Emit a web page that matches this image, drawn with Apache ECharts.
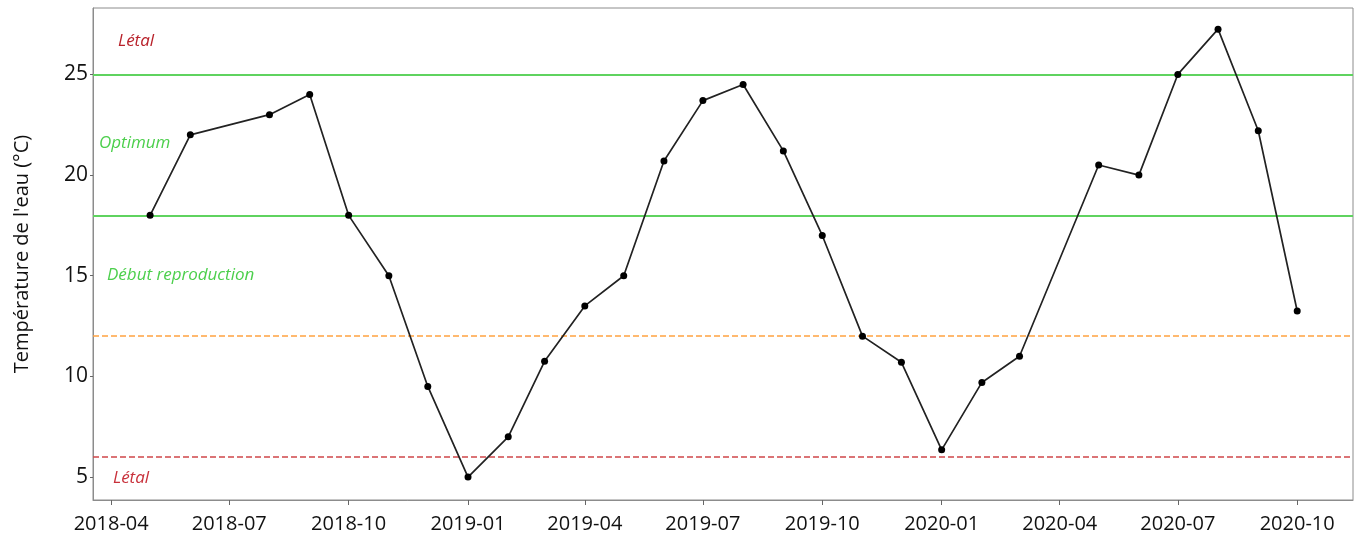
<!DOCTYPE html>
<html lang="fr">
<head>
<meta charset="UTF-8">
<title>Température de l'eau</title>
<script src="https://cdn.jsdelivr.net/npm/echarts@6/dist/echarts.min.js"></script>
<style>
  html, body { margin: 0; padding: 0; background: #fff; }
  #box { width: 1360px; height: 539px; }
</style>
</head>
<body>
<div id="box"></div>
<script>
// dates des mesures (mensuelles, trous en 2018-07 et 2020-04)
var dates = ['2018-05','2018-06','2018-08','2018-09','2018-10','2018-11','2018-12',
             '2019-01','2019-02','2019-03','2019-04','2019-05','2019-06','2019-07','2019-08','2019-09','2019-10','2019-11','2019-12',
             '2020-01','2020-02','2020-03','2020-05','2020-06','2020-07','2020-08','2020-09','2020-10'];
// température de l'eau (°C)
var temps = [18.0, 22.0, 23.0, 24.0, 18.0, 15.0, 9.5,
             5.0, 7.0, 10.75, 13.5, 15.0, 20.7, 23.7, 24.5, 21.2, 17.0, 12.0, 10.7,
             6.35, 9.7, 11.0, 20.5, 20.0, 25.0, 27.25, 22.2, 13.25];
// graduations de l'axe x (trimestres)
var xTicks = ['2018-04','2018-07','2018-10','2019-01','2019-04','2019-07','2019-10','2020-01','2020-04','2020-07','2020-10'];
// graduations de l'axe y
var yTicks = [5, 10, 15, 20, 25];
// seuils
var seuilOptimumHaut = 25;
var seuilReproduction = 18;
var seuilBas = 12;
var seuilLetal = 6;

function toTime(s) {
    var p = s.split('-');
    return Date.UTC(parseInt(p[0]), parseInt(p[1]) - 1, 1);
}
function pad(n) { return n < 10 ? '0' + n : '' + n; }

var data = [];
for (var i = 0; i < dates.length; i++) {
    data.push([toTime(dates[i]), temps[i]]);
}
var tickTimes = xTicks.map(toTime);
var DAY = 86400000;

var myChart = echarts.init(document.getElementById('box'));
var font = '"Open Sans", "Liberation Sans", sans-serif';

var option = {
    animation: false,
    grid: {
        left: 93, right: 7, top: 8, bottom: 39,
        show: true, borderColor: '#8c8c8c', borderWidth: 1
    },
    xAxis: {
        type: 'value',
        min: toTime('2018-04') - 14 * DAY,
        max: toTime('2020-10') + 43 * DAY,
        splitLine: { show: false },
        axisLine: { lineStyle: { color: '#8c8c8c', width: 1 } },
        axisTick: { show: true, length: 5, customValues: tickTimes, lineStyle: { color: '#666' } },
        axisLabel: {
            customValues: tickTimes,
            color: '#111',
            fontFamily: font,
            fontSize: 20,
            margin: 14,
            formatter: function (v) {
                var d = new Date(v);
                return d.getUTCFullYear() + '-' + pad(d.getUTCMonth() + 1);
            }
        }
    },
    yAxis: {
        type: 'value',
        min: 3.86,
        max: 28.3,
        name: "Température de l'eau (°C)",
        nameLocation: 'middle',
        nameGap: 61,
        nameTextStyle: { color: '#111', fontFamily: font, fontSize: 20 },
        splitLine: { show: false },
        axisLine: { show: true, lineStyle: { color: '#8c8c8c', width: 1 } },
        axisTick: { show: true, length: 3, customValues: yTicks, lineStyle: { color: '#666' } },
        axisLabel: { customValues: yTicks, color: '#111', fontFamily: font, fontSize: 21, margin: 5 }
    },
    series: [{
        type: 'line',
        data: data,
        symbol: 'circle',
        symbolSize: 7,
        itemStyle: { color: '#000' },
        lineStyle: { color: '#222', width: 1.7 },
        z: 5,
        markLine: {
            silent: true,
            symbol: 'none',
            label: { show: false },
            z: 1,
            data: [
                { yAxis: seuilOptimumHaut, lineStyle: { color: '#5fd35f', width: 2, type: 'solid' } },
                { yAxis: seuilReproduction, lineStyle: { color: '#5fd35f', width: 2, type: 'solid' } },
                { yAxis: seuilBas, lineStyle: { color: '#ffa340', width: 1.5, type: [6, 3] } },
                { yAxis: seuilLetal, lineStyle: { color: '#d0474a', width: 1.5, type: [6, 3] } }
            ]
        }
    }],
    graphic: [
        { type: 'text', left: 118, top: 33, style: { text: 'Létal', fill: '#b8212a', font: 'italic 17px ' + font } },
        { type: 'text', left: 99, top: 135, style: { text: 'Optimum', fill: '#4ccf4c', font: 'italic 17px ' + font } },
        { type: 'text', left: 107, top: 267, style: { text: 'Début reproduction', fill: '#4ccf4c', font: 'italic 17px ' + font } },
        { type: 'text', left: 113, top: 470, style: { text: 'Létal', fill: '#c8303a', font: 'italic 17px ' + font } }
    ]
};
myChart.setOption(option);
</script>
</body>
</html>
